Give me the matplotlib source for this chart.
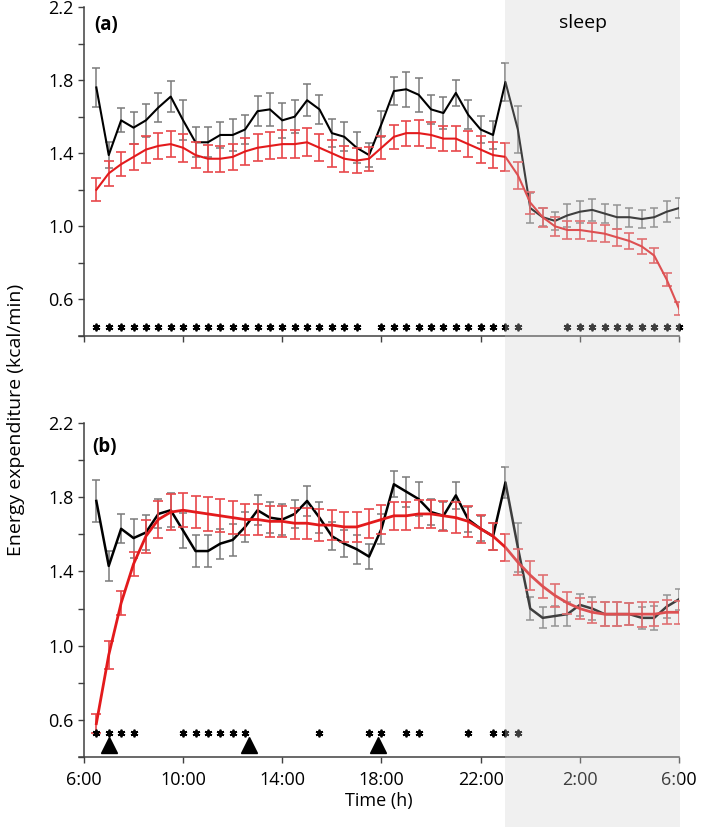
import numpy as np
import matplotlib
matplotlib.use("Agg")
import matplotlib.pyplot as plt
from matplotlib.patches import Rectangle
from matplotlib.transforms import blended_transform_factory

plt.rcParams['font.family'] = ['Open Sans', 'DejaVu Sans']

# time points, hours after 6:00 (every 30 min)
hours = np.arange(0.5, 24.01, 0.5)

# panel (a)
a_black = [1.76, 1.39, 1.58, 1.54, 1.58, 1.65, 1.71, 1.58, 1.46, 1.46, 1.50, 1.50,
           1.53, 1.63, 1.64, 1.58, 1.60, 1.69, 1.64, 1.51, 1.49, 1.43, 1.39, 1.56,
           1.74, 1.75, 1.72, 1.64, 1.62, 1.73, 1.61, 1.53, 1.50, 1.79, 1.53, 1.10,
           1.05, 1.03, 1.06, 1.08, 1.09, 1.07, 1.05, 1.05, 1.04, 1.05, 1.08, 1.10]
a_black_err = [0.108, 0.073, 0.066, 0.087, 0.092, 0.078, 0.085, 0.110, 0.082, 0.082, 0.073, 0.087,
               0.080, 0.082, 0.091, 0.094, 0.091, 0.087, 0.078, 0.075, 0.079, 0.085, 0.067, 0.070,
               0.076, 0.096, 0.093, 0.078, 0.085, 0.073, 0.079, 0.076, 0.078, 0.103, 0.126, 0.080,
               0.050, 0.051, 0.062, 0.059, 0.062, 0.051, 0.067, 0.051, 0.048, 0.051, 0.058, 0.055]
a_red = [1.20, 1.29, 1.34, 1.38, 1.42, 1.44, 1.45, 1.43, 1.39, 1.37, 1.37, 1.38,
         1.41, 1.43, 1.44, 1.45, 1.45, 1.46, 1.43, 1.40, 1.37, 1.36, 1.37, 1.43,
         1.49, 1.51, 1.51, 1.50, 1.48, 1.48, 1.45, 1.42, 1.39, 1.38, 1.28, 1.13,
         1.05, 1.00, 0.98, 0.98, 0.97, 0.96, 0.94, 0.92, 0.89, 0.84, 0.71, 0.55]
a_red_err = [0.064, 0.069, 0.067, 0.073, 0.073, 0.071, 0.073, 0.076, 0.073, 0.073, 0.071, 0.071,
             0.073, 0.073, 0.074, 0.075, 0.076, 0.076, 0.075, 0.073, 0.070, 0.070, 0.066, 0.064,
             0.066, 0.068, 0.071, 0.071, 0.070, 0.069, 0.069, 0.073, 0.073, 0.078, 0.073, 0.060,
             0.053, 0.052, 0.047, 0.051, 0.048, 0.046, 0.046, 0.044, 0.041, 0.040, 0.037, 0.035]
a_stars = [0.5, 1.0, 1.5, 2.0, 2.5, 3.0, 3.5, 4.0, 4.5, 5.0, 5.5, 6.0, 6.5, 7.0, 7.5, 8.0,
           8.5, 9.0, 9.5, 10.0, 10.5, 11.0,
           12.0, 12.5, 13.0, 13.5, 14.0, 14.5, 15.0, 15.5, 16.0, 16.5, 17.0, 17.5,
           19.5, 20.0, 20.5, 21.0, 21.5, 22.0, 22.5, 23.0, 23.5, 24.0]

# panel (b)
b_black = [1.78, 1.43, 1.63, 1.58, 1.61, 1.71, 1.73, 1.62, 1.51, 1.51, 1.55, 1.57,
           1.64, 1.73, 1.69, 1.68, 1.71, 1.78, 1.69, 1.59, 1.55, 1.52, 1.48, 1.63,
           1.87, 1.83, 1.79, 1.72, 1.70, 1.81, 1.68, 1.63, 1.59, 1.88, 1.53, 1.20,
           1.15, 1.16, 1.17, 1.22, 1.20, 1.17, 1.17, 1.17, 1.15, 1.15, 1.21, 1.25]
b_black_err = [0.115, 0.079, 0.079, 0.105, 0.096, 0.078, 0.092, 0.096, 0.085, 0.085, 0.081, 0.085,
               0.079, 0.082, 0.085, 0.086, 0.076, 0.083, 0.085, 0.076, 0.074, 0.078, 0.067, 0.080,
               0.069, 0.081, 0.092, 0.070, 0.076, 0.072, 0.069, 0.067, 0.072, 0.085, 0.133, 0.063,
               0.056, 0.056, 0.063, 0.060, 0.061, 0.063, 0.066, 0.059, 0.061, 0.065, 0.061, 0.058]
b_red = [0.58, 0.95, 1.23, 1.44, 1.59, 1.68, 1.72, 1.73, 1.72, 1.71, 1.70, 1.69,
         1.68, 1.68, 1.67, 1.67, 1.66, 1.66, 1.65, 1.65, 1.64, 1.64, 1.66, 1.68,
         1.70, 1.70, 1.71, 1.71, 1.70, 1.69, 1.67, 1.63, 1.59, 1.53, 1.45, 1.38,
         1.32, 1.27, 1.23, 1.20, 1.18, 1.17, 1.17, 1.17, 1.17, 1.17, 1.18, 1.18]
b_red_err = [0.050, 0.076, 0.067, 0.067, 0.090, 0.099, 0.096, 0.091, 0.085, 0.090, 0.090, 0.090,
             0.082, 0.083, 0.083, 0.083, 0.084, 0.083, 0.085, 0.081, 0.081, 0.081, 0.079, 0.080,
             0.076, 0.074, 0.076, 0.076, 0.081, 0.085, 0.083, 0.076, 0.072, 0.072, 0.069, 0.078,
             0.063, 0.063, 0.058, 0.058, 0.056, 0.065, 0.066, 0.061, 0.067, 0.063, 0.065, 0.063]
b_stars = [0.5, 1.0, 1.5, 2.0, 4.0, 4.5, 5.0, 5.5, 6.0, 6.5, 9.5, 11.5, 12.0,
           13.0, 13.5, 15.5, 16.5, 17.0, 17.5]
meals = [1.0, 6.65, 11.85]

tick_pos = [0, 4, 8, 12, 16, 20, 24]
tick_lab = ['6:00', '10:00', '14:00', '18:00', '22:00', '2:00', '6:00']
sleep_start, sleep_end = 17.0, 24.05

fig = plt.figure(figsize=(7.09, 8.27), dpi=100)
ax_a = fig.add_axes([0.1114, 0.5937, 0.8463, 0.3978])
ax_b = fig.add_axes([0.1114, 0.0846, 0.8463, 0.4039])

spine_col = '#404040'
for ax in (ax_a, ax_b):
    ax.set_xlim(-0.2, 24.0)
    ax.set_ylim(0.4, 2.2)
    ax.spines['top'].set_visible(False)
    ax.spines['right'].set_visible(False)
    ax.spines['left'].set_position(('data', 0))
    for s in ('left', 'bottom'):
        ax.spines[s].set_color(spine_col)
        ax.spines[s].set_linewidth(1.1)
    ax.set_yticks([0.6, 1.0, 1.4, 1.8, 2.2])
    ax.set_yticklabels(['0.6', '1.0', '1.4', '1.8', '2.2'])
    ax.set_yticks(np.arange(0.4, 2.21, 0.2), minor=True)
    ax.set_xticks(tick_pos)
    ax.tick_params(axis='both', which='both', direction='out', length=4,
                   width=1, color=spine_col, labelsize=13)
    ax.tick_params(axis='x', pad=6)

ax_a.set_xticklabels([])
ax_b.set_xticklabels(tick_lab)
ax_b.set_xlabel('Time (h)', fontsize=13, labelpad=2)

grey_err = '#7a7a7a'
red_line = '#e31a1c'
red_err = '#e8474a'

ax_a.errorbar(hours, a_black, yerr=a_black_err, color='black', lw=1.5,
              ecolor=grey_err, elinewidth=1.1, capsize=3, capthick=1.1, zorder=3)
ax_a.errorbar(hours, a_red, yerr=a_red_err, color=red_line, lw=1.5,
              ecolor=red_err, elinewidth=1.2, capsize=3.5, capthick=1.2, zorder=4)
ax_b.errorbar(hours, b_black, yerr=b_black_err, color='black', lw=1.8,
              ecolor=grey_err, elinewidth=1.1, capsize=3, capthick=1.1, zorder=3)
ax_b.errorbar(hours, b_red, yerr=b_red_err, color=red_line, lw=2.0,
              ecolor=red_err, elinewidth=1.2, capsize=3.5, capthick=1.2, zorder=4)

# significance asterisks and meal markers
ax_a.plot(a_stars, [0.45] * len(a_stars), ls='none', marker=(6, 2, 0), ms=5.5,
          mew=1.3, color='black', clip_on=False, zorder=5)
ax_b.plot(b_stars, [0.53] * len(b_stars), ls='none', marker=(6, 2, 0), ms=5.5,
          mew=1.3, color='black', clip_on=False, zorder=5)
ax_b.plot(meals, [0.465] * len(meals), ls='none', marker='^', ms=12,
          color='black', clip_on=False, zorder=5)

ax_a.text(0.045, 0.945, '(a)', transform=ax_a.transAxes, fontsize=13.5,
          fontweight='bold', ha='center', va='center')
ax_b.text(0.042, 0.928, '(b)', transform=ax_b.transAxes, fontsize=13.5,
          fontweight='bold', ha='center', va='center')

fig.text(0.022, 0.492, 'Energy expenditure (kcal/min)', rotation=90,
         fontsize=14, ha='center', va='center')

# translucent sleep band over the whole figure height
trans = blended_transform_factory(ax_a.transData, fig.transFigure)
fig.add_artist(Rectangle((sleep_start, 0), sleep_end - sleep_start, 1,
                         transform=trans, facecolor='#d0d0d0', alpha=0.3,
                         edgecolor='none', zorder=6))
fig.text(0.822, 0.972, 'sleep', fontsize=14, ha='center', va='center', zorder=7)

fig.savefig('out.png', dpi=100)
